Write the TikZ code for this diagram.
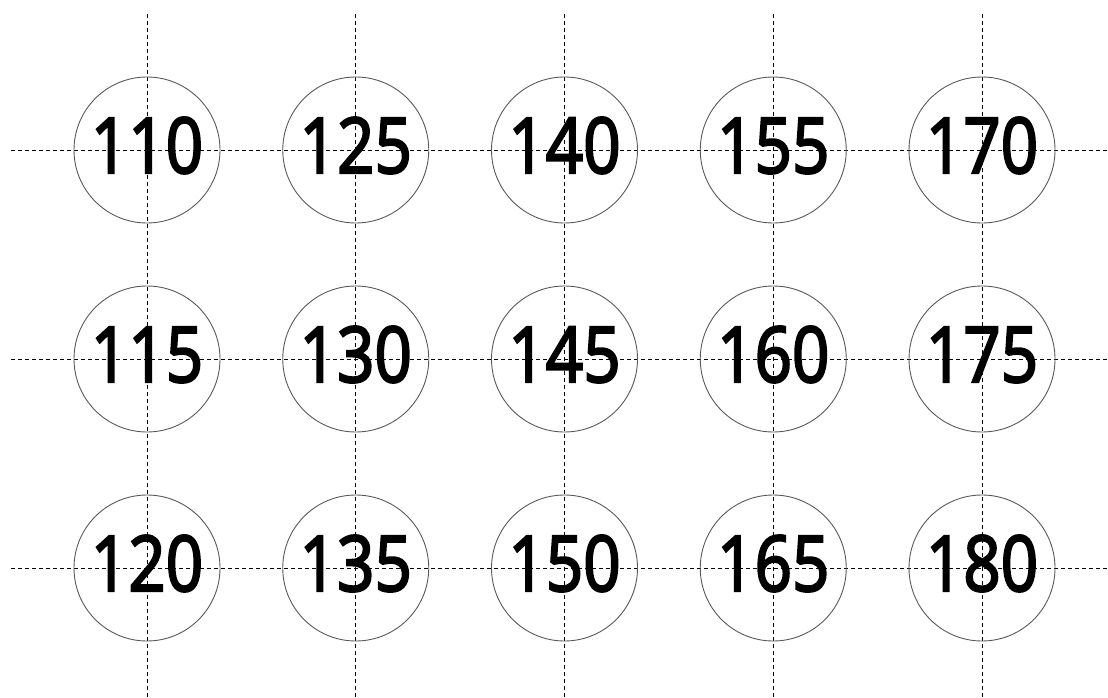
\documentclass[tikz,border=0pt]{standalone}
\usepackage{fontspec}
\setmainfont{Open Sans}
\newfontfamily\numfont[FakeBold=3]{Open Sans}
\tikzset{
  ring/.style={circle, draw=black!65, line width=0.9pt, minimum size=146pt, inner sep=0pt},
  num/.style={font=\numfont\fontsize{77}{80}\selectfont, text=black, inner sep=0pt, anchor=base},
  guide/.style={draw=black, line width=0.9pt, dash pattern=on 4pt off 3pt}
}
\begin{document}
\begin{tikzpicture}[x=1pt, y=-1pt]
\useasboundingbox (0,0) rectangle (1108,698);
\foreach \i in {0,...,4} {
  \pgfmathsetmacro\xx{147+208.75*\i}
  \coordinate (vt\i) at (\xx,14);
  \coordinate (vb\i) at (\xx,698);
  \draw[guide] (vt\i) -- (vb\i);
}
\foreach \j in {0,1,2} {
  \pgfmathsetmacro\yy{150+209*\j}
  \coordinate (hl\j) at (11,\yy);
  \coordinate (hr\j) at (1108,\yy);
  \draw[guide] (hl\j) -- (hr\j);
}
\foreach \i in {0,...,4} {
  \foreach \j in {0,1,2} {
    \pgfmathsetmacro\xx{147+208.75*\i}
    \pgfmathsetmacro\yy{150+209*\j}
    \pgfmathtruncatemacro\v{110+15*\i+5*\j}
    \node[ring] (c\v) at (\xx,\yy) {};
    \node[num] (t\v) at (\xx,\yy+23) {\scalebox{0.85}[1]{\v}};
  }
}
\end{tikzpicture}
\end{document}
